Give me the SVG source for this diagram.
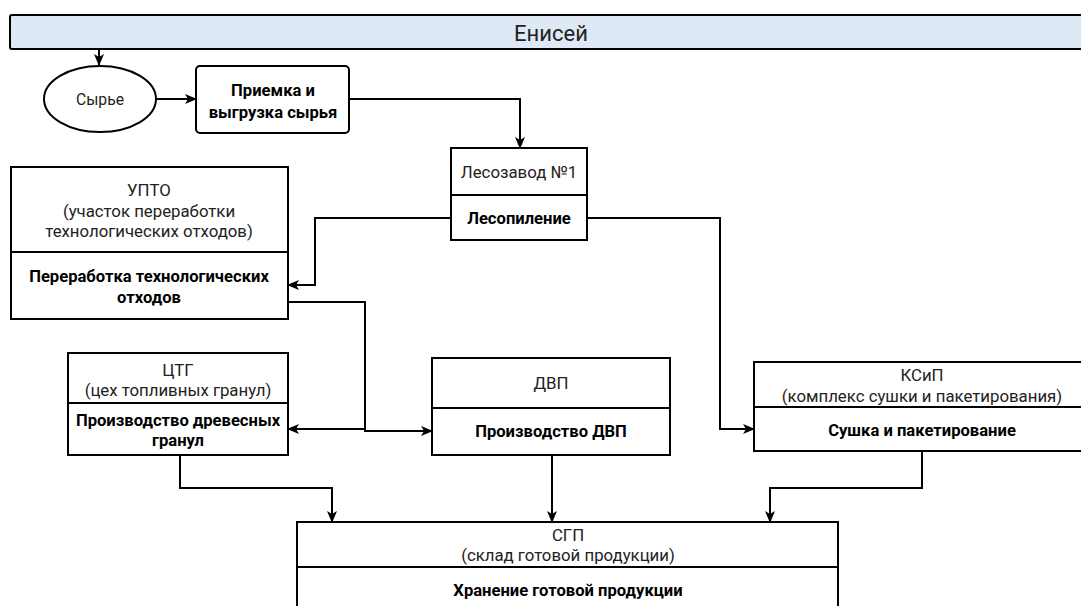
<svg xmlns="http://www.w3.org/2000/svg" width="1081" height="606" viewBox="0 0 1081 606">
  <defs>
    <marker id="arrow" markerUnits="userSpaceOnUse" markerWidth="12" markerHeight="10" viewBox="0 0 12 10" refX="11" refY="5" orient="auto">
      <path d="M0,0 L12,5 L0,10 L3,5 Z" fill="#000"/>
    </marker>
    <style>
      .box { fill: #fff; stroke: #000; stroke-width: 2; }
      .div { stroke: #000; stroke-width: 2; }
      .t { font-family: Roboto, "Liberation Sans", sans-serif; font-size: 16.8px; fill: #222; text-anchor: middle; dominant-baseline: central; }
      .b { font-family: Roboto, "Liberation Sans", sans-serif; font-size: 16.6px; font-weight: bold; fill: #000; text-anchor: middle; dominant-baseline: central; }
      .edge { fill: none; stroke: #000; stroke-width: 2; marker-end: url(#arrow); }
    </style>
  </defs>

  <!-- river header -->
  <g id="yenisei">
    <rect x="10" y="15" width="1090" height="34" rx="2" fill="#dee9f5" stroke="#000" stroke-width="2"/>
    <text x="551" y="33" class="t" style="font-size:22px">Енисей</text>
  </g>

  <g id="raw">
    <ellipse cx="100" cy="99" rx="56" ry="33" class="box"/>
    <text x="100" y="99" class="t" style="font-size:15.7px">Сырье</text>
  </g>

  <g id="unloading">
    <rect x="196" y="66" width="153" height="67" rx="4" class="box"/>
    <text x="273" y="90" class="b">Приемка и</text>
    <text x="273" y="112" class="b">выгрузка сырья</text>
  </g>

  <g id="sawmill">
    <rect x="451" y="148" width="136" height="92" class="box"/>
    <line x1="451" y1="195" x2="587" y2="195" class="div"/>
    <text x="519" y="172" class="t">Лесозавод №1</text>
    <text x="519" y="218" class="b">Лесопиление</text>
  </g>

  <g id="upto">
    <rect x="11" y="167" width="277" height="152" class="box"/>
    <line x1="11" y1="252" x2="288" y2="252" class="div"/>
    <text x="149" y="190" class="t">УПТО</text>
    <text x="149" y="211" class="t">(участок переработки</text>
    <text x="149" y="231" class="t">технологических отходов)</text>
    <text x="149" y="276" class="b">Переработка технологических</text>
    <text x="149" y="297" class="b">отходов</text>
  </g>

  <g id="ctg">
    <rect x="68" y="353" width="220" height="102" class="box"/>
    <line x1="68" y1="403" x2="288" y2="403" class="div"/>
    <text x="178" y="370" class="t">ЦТГ</text>
    <text x="178" y="390" class="t">(цех топливных гранул)</text>
    <text x="178" y="420" class="b">Производство древесных</text>
    <text x="178" y="440" class="b">гранул</text>
  </g>

  <g id="dvp">
    <rect x="432" y="358" width="238" height="97" class="box"/>
    <line x1="432" y1="408" x2="670" y2="408" class="div"/>
    <text x="551" y="383" class="t">ДВП</text>
    <text x="551" y="431" class="b">Производство ДВП</text>
  </g>

  <g id="ksip">
    <rect x="754" y="362" width="336" height="89" class="box"/>
    <line x1="754" y1="407" x2="1090" y2="407" class="div"/>
    <text x="922" y="375" class="t">КСиП</text>
    <text x="922" y="396" class="t">(комплекс сушки и пакетирования)</text>
    <text x="922" y="430" class="b">Сушка и пакетирование</text>
  </g>

  <g id="sgp">
    <rect x="297" y="522" width="541" height="120" class="box"/>
    <line x1="297" y1="567" x2="838" y2="567" class="div"/>
    <text x="568" y="535" class="t">СГП</text>
    <text x="568" y="555" class="t">(склад готовой продукции)</text>
    <text x="568" y="590" class="b">Хранение готовой продукции</text>
  </g>

  <g id="connectors">
    <path d="M99,49 V65" class="edge"/>
    <path d="M156,99 H196" class="edge"/>
    <path d="M349,99 H520 V148" class="edge"/>
    <path d="M451,218 H315 V285 H288" class="edge"/>
    <path d="M587,218 H720 V429 H754" class="edge"/>
    <path d="M288,302 H365 V431 H432" class="edge"/>
    <path d="M365,429 H288" class="edge"/>
    <path d="M180,455 V488 H332 V522" class="edge"/>
    <path d="M552,455 V522" class="edge"/>
    <path d="M922,451 V488 H770 V522" class="edge"/>
  </g>
</svg>
